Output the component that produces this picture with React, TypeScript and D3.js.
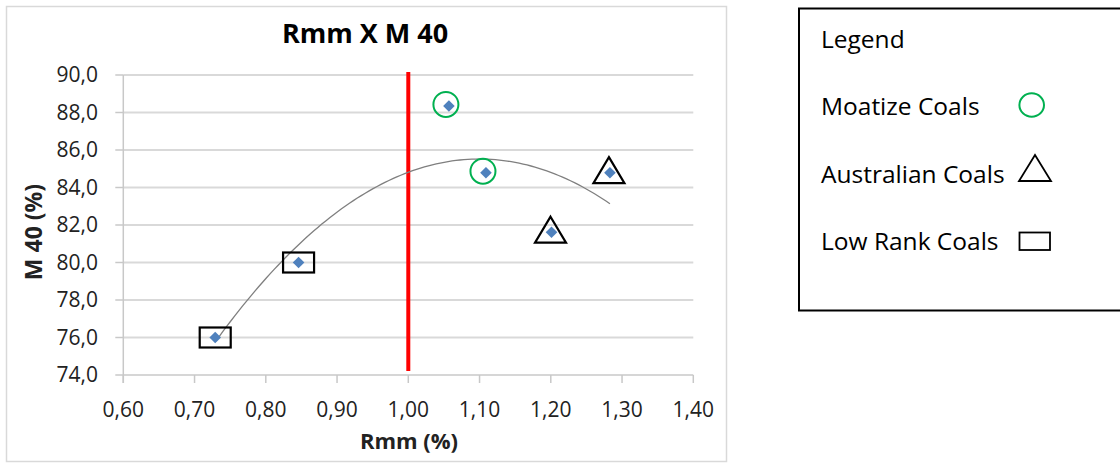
import React from "react";
import * as d3 from "d3";

// ---- data ----
const rmm = [0.729, 0.846, 1.057, 1.109, 1.201, 1.283];
const m40 = [76.0, 80.0, 88.35, 84.79, 81.61, 84.79];
const coalGroup = ["Low Rank", "Low Rank", "Moatize", "Moatize", "Australian", "Australian"];
const xTicks = [0.6, 0.7, 0.8, 0.9, 1.0, 1.1, 1.2, 1.3, 1.4];
const yTicks = [74, 76, 78, 80, 82, 84, 86, 88, 90];
const referenceRmm = 1.0;
const legendLabels = ["Moatize Coals", "Australian Coals", "Low Rank Coals"];
const legendGroups = ["Moatize", "Australian", "Low Rank"];
const chartTitle = "Rmm X M 40";
const xTitle = "Rmm (%)";
const yTitle = "M 40 (%)";

// least-squares quadratic fit (Excel polynomial trendline, order 2)
function quadFit(xs: number[], ys: number[]) {
  const n = xs.length;
  let s0 = n, s1 = 0, s2 = 0, s3 = 0, s4 = 0, t0 = 0, t1 = 0, t2 = 0;
  for (let i = 0; i < n; i++) {
    const x = xs[i], y = ys[i];
    s1 += x; s2 += x * x; s3 += x ** 3; s4 += x ** 4;
    t0 += y; t1 += x * y; t2 += x * x * y;
  }
  const A = [
    [s0, s1, s2, t0],
    [s1, s2, s3, t1],
    [s2, s3, s4, t2],
  ];
  for (let i = 0; i < 3; i++) {
    for (let j = i + 1; j < 3; j++) {
      const f = A[j][i] / A[i][i];
      for (let k = i; k < 4; k++) A[j][k] -= f * A[i][k];
    }
  }
  const c = [0, 0, 0];
  for (let i = 2; i >= 0; i--) {
    let s = A[i][3];
    for (let k = i + 1; k < 3; k++) s -= A[i][k] * c[k];
    c[i] = s / A[i][i];
  }
  return (x: number) => c[0] + c[1] * x + c[2] * x * x;
}

const W = 1120;
const H = 469;
const FONT = "'Open Sans', 'Noto Sans', sans-serif";

export default function App() {
  const x = d3.scaleLinear().domain([0.6, 1.4]).range([123.3, 693.3]);
  const y = d3.scaleLinear().domain([74, 90]).range([375, 75]);
  const fx = d3.format(".2f");
  const fy = d3.format(".1f");
  const comma = (s: string) => s.replace(".", ",");

  const fit = quadFit(rmm, m40);
  const x0 = d3.min(rmm) as number;
  const x1 = d3.max(rmm) as number;
  const curvePts = d3.range(0, 101).map((i) => {
    const xv = x0 + ((x1 - x0) * i) / 100;
    return [xv, fit(xv)] as [number, number];
  });
  const curve = d3
    .line<[number, number]>()
    .x((d) => x(d[0]))
    .y((d) => y(d[1]))
    .curve(d3.curveLinear)(curvePts) as string;

  const r = 5.8;
  const diamond = `M0,${-r} L${r},0 L0,${r} L${-r},0 Z`;

  const groupMark = (g: string, cx: number, cy: number, key: string) => {
    if (g === "Moatize")
      return <circle key={key} cx={cx - 3} cy={cy - 1.5} r={12.5} fill="none" stroke="#00b050" strokeWidth={2} />;
    if (g === "Australian")
      return (
        <path
          key={key}
          d={`M${cx - 1},${cy - 15.6} L${cx + 14.5},${cy + 10.4} L${cx - 16.5},${cy + 10.4} Z`}
          fill="none"
          stroke="#000"
          strokeWidth={2.2}
        />
      );
    return <rect key={key} x={cx - 15.5} y={cy - 10} width={31} height={20} fill="none" stroke="#000" strokeWidth={2.2} />;
  };

  return (
    <svg width={W} height={H} style={{ position: "absolute", left: 0, top: 0, background: "#fff" }} fontFamily={FONT}>
      {/* chart frame */}
      <rect x={6.5} y={6.5} width={720} height={455} fill="#fff" stroke="#d9d9d9" strokeWidth={1.5} />
      <text x={365} y={43} textAnchor="middle" fontSize={27} fontWeight="bold" fill="#000">
        {chartTitle}
      </text>

      {/* gridlines */}
      {yTicks.slice(1).map((t) => (
        <line key={"g" + t} x1={x(0.6)} x2={x(1.4)} y1={y(t)} y2={y(t)} stroke="#d9d9d9" strokeWidth={2} />
      ))}
      {/* axes */}
      <line x1={x(0.6)} x2={x(1.4)} y1={y(74)} y2={y(74)} stroke="#c8c8c8" strokeWidth={1.5} />
      <line x1={x(0.6)} x2={x(0.6)} y1={y(90)} y2={y(74) + 8} stroke="#c8c8c8" strokeWidth={1.5} />
      {yTicks.map((t) => (
        <g key={"y" + t}>
          <line x1={x(0.6) - 8} x2={x(0.6)} y1={y(t)} y2={y(t)} stroke="#c8c8c8" strokeWidth={1.5} />
          <text x={98} y={y(t)} dy="0.35em" textAnchor="end" fontSize={21} fill="#222">
            {comma(fy(t))}
          </text>
        </g>
      ))}
      {xTicks.map((t) => (
        <g key={"x" + t}>
          <line x1={x(t)} x2={x(t)} y1={y(74)} y2={y(74) + 8} stroke="#c8c8c8" strokeWidth={1.5} />
          <text x={x(t)} y={416.5} textAnchor="middle" fontSize={21} fill="#222">
            {comma(fx(t))}
          </text>
        </g>
      ))}
      <text x={409} y={449} textAnchor="middle" fontSize={22} fontWeight="bold" fill="#222">
        {xTitle}
      </text>
      <text
        transform={`translate(42,232) rotate(-90)`}
        textAnchor="middle"
        fontSize={23}
        fontWeight="bold"
        fill="#222"
      >
        {yTitle}
      </text>

      {/* reference line */}
      <line x1={x(referenceRmm)} x2={x(referenceRmm)} y1={72} y2={371} stroke="#ff0000" strokeWidth={4} />

      {/* trendline */}
      <path d={curve} fill="none" stroke="#7f7f7f" strokeWidth={1.3} />

      {/* points */}
      {rmm.map((v, i) => (
        <path key={"p" + i} d={diamond} transform={`translate(${x(v)},${y(m40[i])})`} fill="#4f81bd" />
      ))}
      {rmm.map((v, i) => groupMark(coalGroup[i], x(v), y(m40[i]), "m" + i))}

      {/* legend */}
      <rect x={799} y={8.5} width={340} height={302} fill="#fff" stroke="#000" strokeWidth={2} />
      <text x={821} y={48} fontSize={24.5} fill="#000">
        Legend
      </text>
      {legendLabels.map((lab, i) => {
        const base = 115 + i * 67.5;
        const g = legendGroups[i];
        return (
          <g key={"l" + i}>
            <text x={821} y={base} fontSize={24.5} fill="#000">
              {lab}
            </text>
            {g === "Moatize" && (
              <ellipse cx={1031.7} cy={base - 10} rx={12.3} ry={11.7} fill="none" stroke="#00b050" strokeWidth={2} />
            )}
            {g === "Australian" && (
              <path
                d={`M1035,${base - 27.5} L1051,${base - 1.5} L1019,${base - 1.5} Z`}
                fill="none"
                stroke="#000"
                strokeWidth={1.8}
              />
            )}
            {g === "Low Rank" && (
              <rect x={1019.5} y={base - 17.5} width={30.5} height={17.5} fill="none" stroke="#000" strokeWidth={1.8} />
            )}
          </g>
        );
      })}
    </svg>
  );
}
